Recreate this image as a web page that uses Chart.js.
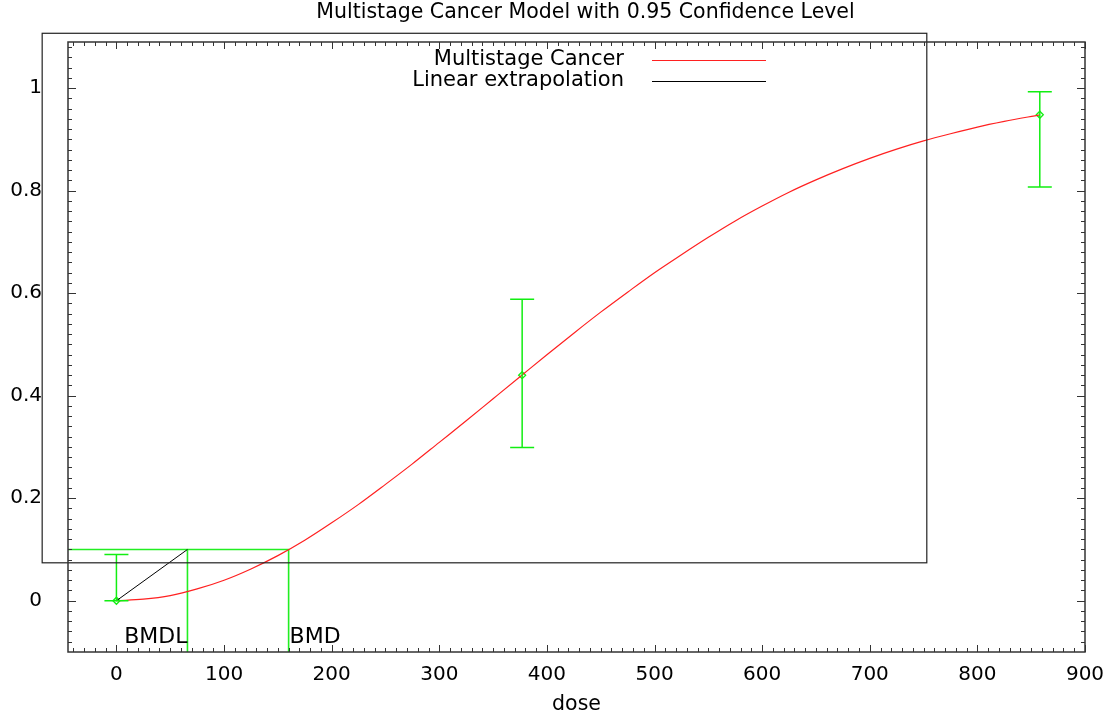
<!DOCTYPE html>
<html>
<head>
<meta charset="utf-8">
<script src="https://cdn.jsdelivr.net/npm/chart.js@4.4.1/dist/chart.umd.min.js"></script>
<style>
html, body { margin:0; padding:0; background:#fff; }
</style>
</head>
<body>
<canvas id="DoseChart" width="1116" height="715"></canvas>
<script>
// fitted multistage curve
const CURVE_DOSE = [0, 25, 50, 75, 100, 125, 150, 175, 200, 225, 250, 275, 300, 325, 350, 375, 400, 425,
    450, 475, 500, 525, 550, 575, 600, 625, 650, 675, 700, 725, 750, 775, 800, 825, 858];
const CURVE_RISK = [0, 0.003, 0.010, 0.023, 0.040, 0.062, 0.088, 0.118, 0.152, 0.188, 0.227, 0.267, 0.309,
    0.351, 0.394, 0.437, 0.480, 0.522, 0.563, 0.602, 0.640, 0.675, 0.709, 0.741, 0.770, 0.797, 0.821,
    0.843, 0.863, 0.881, 0.897, 0.911, 0.924, 0.935, 0.948];

// observed groups with 0.95 limits
const OBS_DOSE = [0, 377, 858];
const OBS_RISK = [0, 0.44, 0.948];
const OBS_LOWER = [0, 0.299, 0.807];
const OBS_UPPER = [0.09, 0.588, 0.993];

const BMR = 0.1;
const BMD = 160;
const BMDL = 66;

const X_MIN = -45, X_MAX = 900;
const Y_MIN = -0.1, Y_MAX = 1.09;
const X_TICKS = [0, 100, 200, 300, 400, 500, 600, 700, 800, 900];
const Y_TICKS = [0, 0.2, 0.4, 0.6, 0.8, 1];

// stray box left over in the plot
const BOX_X = [-69, 753];
const BOX_Y = [0.074, 1.107];

const FONT = "'DejaVu Sans', sans-serif";
const GREEN = '#22ee22';

const framePlugin = {
    id: 'frame',
    afterDatasetsDraw(chart) {
        const ctx = chart.ctx;
        const xs = chart.scales.x, ys = chart.scales.y;
        const a = chart.chartArea;

        // error bars
        ctx.save();
        ctx.strokeStyle = '#11ee11';
        ctx.lineWidth = 1.5;
        for (let i = 0; i < OBS_DOSE.length; i++) {
            const px = xs.getPixelForValue(OBS_DOSE[i]);
            const lo = ys.getPixelForValue(OBS_LOWER[i]);
            const hi = ys.getPixelForValue(OBS_UPPER[i]);
            ctx.beginPath();
            ctx.moveTo(px, lo); ctx.lineTo(px, hi);
            ctx.moveTo(px - 12, lo); ctx.lineTo(px + 12, lo);
            ctx.moveTo(px - 12, hi); ctx.lineTo(px + 12, hi);
            ctx.stroke();
        }
        ctx.restore();

        // BMD / BMDL labels
        ctx.save();
        ctx.fillStyle = '#000';
        ctx.font = '22px ' + FONT;
        ctx.textBaseline = 'alphabetic';
        const ly = a.bottom - 9;
        ctx.textAlign = 'right';
        ctx.fillText('BMDL', xs.getPixelForValue(BMDL), ly);
        ctx.textAlign = 'left';
        ctx.fillText('BMD', xs.getPixelForValue(BMD) + 1, ly);
        ctx.restore();

        // stray box
        ctx.save();
        ctx.strokeStyle = '#222';
        ctx.lineWidth = 1.2;
        const bx0 = xs.getPixelForValue(BOX_X[0]), bx1 = xs.getPixelForValue(BOX_X[1]);
        const by0 = ys.getPixelForValue(BOX_Y[0]), by1 = ys.getPixelForValue(BOX_Y[1]);
        ctx.strokeRect(bx0, by1, bx1 - bx0, by0 - by1);
        ctx.restore();
    },
    afterDraw(chart) {
        const ctx = chart.ctx;
        const xs = chart.scales.x, ys = chart.scales.y;
        const a = chart.chartArea;

        ctx.save();
        ctx.strokeStyle = '#333';
        ctx.lineWidth = 1.5;
        ctx.strokeRect(a.left, a.top, a.right - a.left, a.bottom - a.top);

        // inward ticks on all four sides
        ctx.lineWidth = 1;
        ctx.beginPath();
        for (let v = -40; v <= X_MAX; v += 10) {
            const px = Math.round(xs.getPixelForValue(v)) + 0.5;
            const len = (v % 100 === 0) ? 7 : 4;
            ctx.moveTo(px, a.bottom); ctx.lineTo(px, a.bottom - len);
            ctx.moveTo(px, a.top); ctx.lineTo(px, a.top + len);
        }
        for (let k = -4; k <= 54; k++) {
            const v = k * 0.02;
            const py = Math.round(ys.getPixelForValue(v)) + 0.5;
            const len = (k % 10 === 0) ? 8 : 4;
            ctx.moveTo(a.left, py); ctx.lineTo(a.left + len, py);
            ctx.moveTo(a.right, py); ctx.lineTo(a.right - len, py);
        }
        ctx.stroke();
        ctx.restore();

        // title
        ctx.save();
        ctx.fillStyle = '#000';
        ctx.font = '20.5px ' + FONT;
        ctx.textAlign = 'center';
        ctx.textBaseline = 'alphabetic';
        ctx.fillText('Multistage Cancer Model with 0.95 Confidence Level', (a.left + a.right) / 2 + 9, 18);
        ctx.restore();

        // legend
        ctx.save();
        ctx.font = '21px ' + FONT;
        ctx.textAlign = 'right';
        ctx.textBaseline = 'middle';
        ctx.fillStyle = '#000';
        const items = [chart.data.datasets[0], chart.data.datasets[1]];
        items.forEach((ds, i) => {
            const y = 60 + i * 20.5;
            ctx.fillText(ds.label, 624, y);
            ctx.strokeStyle = ds.borderColor;
            ctx.lineWidth = 1;
            ctx.beginPath();
            ctx.moveTo(652, Math.round(y) + 0.5);
            ctx.lineTo(766, Math.round(y) + 0.5);
            ctx.stroke();
        });
        ctx.restore();
    }
};

const curvePoints = CURVE_DOSE.map((d, i) => ({x: d, y: CURVE_RISK[i]}));
const obsPoints = OBS_DOSE.map((d, i) => ({x: d, y: OBS_RISK[i]}));

new Chart(document.getElementById('DoseChart'), {
    type: 'scatter',
    data: {
        datasets: [
        {
            label: 'Multistage Cancer',
            data: curvePoints,
            showLine: true,
            borderColor: '#ff2020',
            borderWidth: 1.2,
            pointRadius: 0,
            cubicInterpolationMode: 'monotone',
        },
        {
            label: 'Linear extrapolation',
            data: [{x: 0, y: 0}, {x: BMDL, y: BMR}],
            showLine: true,
            borderColor: '#000',
            borderWidth: 1,
            pointRadius: 0,
        },
        {
            label: 'BMD',
            data: [{x: X_MIN, y: BMR}, {x: BMD, y: BMR}, {x: BMD, y: Y_MIN}],
            showLine: true,
            borderColor: GREEN,
            borderWidth: 1.6,
            pointRadius: 0,
        },
        {
            label: 'BMDL',
            data: [{x: BMDL, y: BMR}, {x: BMDL, y: Y_MIN}],
            showLine: true,
            borderColor: GREEN,
            borderWidth: 1.6,
            pointRadius: 0,
        },
        {
            label: 'Observed',
            data: obsPoints,
            showLine: false,
            pointStyle: 'rectRot',
            pointRadius: 3.5,
            borderColor: '#11ee11',
            backgroundColor: 'rgba(0,0,0,0)',
            borderWidth: 1.3,
        }
        ]
    },
    options: {
        responsive: false,
        animation: false,
        layout: { padding: { top: 42, right: 31, left: 0, bottom: 0 } },
        plugins: {
            legend: { display: false },
            title: { display: false },
            tooltip: { enabled: false }
        },
        scales: {
            x: {
                type: 'linear',
                min: X_MIN,
                max: X_MAX,
                grid: { display: false },
                border: { display: false },
                afterBuildTicks: s => { s.ticks = X_TICKS.map(v => ({value: v})); },
                afterFit: s => { s.height = 63; },
                ticks: {
                    color: '#000',
                    padding: 3,
                    maxRotation: 0,
                    font: { family: FONT, size: 20 },
                    callback: v => String(v)
                },
                title: {
                    display: true,
                    text: 'dose',
                    color: '#000',
                    font: { family: FONT, size: 20.5, lineHeight: 1.0 },
                    padding: 0
                }
            },
            y: {
                type: 'linear',
                min: Y_MIN,
                max: Y_MAX,
                grid: { display: false },
                border: { display: false },
                afterBuildTicks: s => { s.ticks = Y_TICKS.map(v => ({value: v})); },
                afterFit: s => { s.width = 68; },
                ticks: {
                    color: '#000',
                    padding: 18,
                    font: { family: FONT, size: 20 },
                    callback: v => String(Number(v.toFixed(1)))
                }
            }
        }
    },
    plugins: [framePlugin]
});
</script>
</body>
</html>
